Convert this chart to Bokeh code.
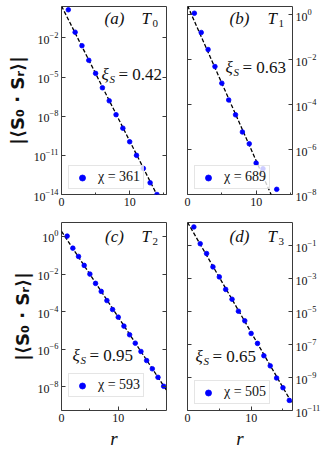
import math
from bokeh.plotting import figure
from bokeh.layouts import column, row
from bokeh.models import (Range1d, LogAxis, FixedTicker, Label, Legend, LegendItem,
                          CustomJSTickFormatter)
from bokeh.embed import file_html
from bokeh.resources import INLINE

# ---------------- data ----------------
r_a = [1, 2, 3, 4, 5, 6, 7, 8, 9, 10, 11, 12, 13, 14]
c_a = [1.41, 2.7e-2, 2.5e-3, 1.9e-4, 1.9e-5, 1.5e-6, 1.5e-7, 1.3e-8, 1.2e-9,
       1.1e-10, 1.0e-11, 1.0e-12, 7.9e-14, 1.0e-14]
r_b = [1, 2, 3, 4, 5, 6, 7, 8, 9, 10, 11, 13]
c_b = [1.15, 1.6e-1, 2.8e-2, 4.9e-3, 8.9e-4, 1.6e-4, 3.5e-5, 6.0e-6, 1.8e-6,
       2.5e-7, 1.4e-7, 1.7e-8]
r_c = list(range(1, 19))
c_c = [1.05, 2.4e-1, 8.7e-2, 2.9e-2, 1.0e-2, 3.2e-3, 1.2e-3, 3.9e-4, 1.3e-4,
       5.1e-5, 1.7e-5, 5.9e-6, 2.1e-6, 7.6e-7, 2.5e-7, 9.1e-8, 3.2e-8, 1.07e-8]
r_d = list(range(1, 17))
c_d = [1.35, 1.3e-1, 3.3e-2, 5.1e-3, 1.26e-3, 2.2e-4, 5.6e-5, 1.05e-5, 2.75e-6,
       4.7e-7, 1.17e-7, 2.1e-8, 5.1e-9, 9.3e-10, 2.4e-10, 4.1e-11]

xi_values = [0.42, 0.63, 0.95, 0.65]
fit_amplitudes = [2.75, 2.5, 1.9, 2.6]
chi_values = [361, 689, 593, 505]
panel_tags = ["a", "b", "c", "d"]
state_idx = ["0", "1", "2", "3"]
x_max = [15.4, 15.3, 18.5, 16.5]
y_lims = [(1e-14, 10**0.4), (1e-8, 10**0.36), (10**-9.26, 10**0.745), (1e-11, 10**0.4)]
y_ticks = [[1e-14, 1e-11, 1e-8, 1e-5, 1e-2],
           [1e-8, 1e-6, 1e-4, 1e-2, 1e0],
           [1e-8, 1e-6, 1e-4, 1e-2, 1e0],
           [1e-11, 1e-9, 1e-7, 1e-5, 1e-3, 1e-1]]
x_ticks = [0, 10]
x_minor = [5, 15]

SERIF = "Liberation Serif"
FRAME = "#3a3a3a"
BLUE = "#0000ff"

# layout: (width, height, left, right, top, bottom)
geo = [
    (176, 221, 61, 10, 6, 27),
    (156, 221, 11, 40, 6, 27),
    (176, 231, 61, 10, 1, 42),
    (156, 231, 11, 40, 1, 42),
]
tag_pos = [(53, 12), (52, 12), (53, 14), (52, 14)]
xi_pos = [(40, 68), (38, 61), (11, 133), (8, 134)]
legend_loc = [(7, 5), (7, 5), (7, 13), (7, 6)]
data = [(r_a, c_a), (r_b, c_b), (r_c, c_c), (r_d, c_d)]


def style_axis(ax, labels=True):
    ax.axis_line_color = None
    ax.major_tick_in = 4
    ax.major_tick_out = 0
    ax.minor_tick_in = 2
    ax.minor_tick_out = 0
    ax.major_tick_line_color = FRAME
    ax.minor_tick_line_color = FRAME
    ax.major_label_text_font = SERIF
    ax.major_label_text_color = "#111111"
    ax.major_label_text_font_size = "12px"
    if labels:
        ax.major_label_standoff = 3
    else:
        ax.formatter = CustomJSTickFormatter(code="return ' ';")
        ax.major_label_text_font_size = "11px"
        ax.major_label_standoff = 0


panels = []
for i in range(4):
    w, h, bl, br, bt, bb = geo[i]
    fw, fh = w - bl - br, h - bt - bb
    side = "left" if i in (0, 2) else "right"
    ymin, ymax = y_lims[i]
    p = figure(width=w, height=h, x_range=Range1d(0, x_max[i]),
               y_range=Range1d(ymin, ymax), y_axis_type="log",
               y_axis_location=side, output_backend="svg",
               toolbar_location=None, min_border_left=bl, min_border_right=br,
               min_border_top=bt, min_border_bottom=bb)
    p.grid.visible = False
    p.outline_line_color = FRAME
    p.outline_line_width = 1
    p.background_fill_color = "white"
    p.border_fill_color = "white"

    xa = p.xaxis[0]
    xa.ticker = FixedTicker(ticks=x_ticks, minor_ticks=x_minor)
    style_axis(xa)
    ya = p.yaxis[0]
    ya.ticker = FixedTicker(ticks=y_ticks[i])
    style_axis(ya)

    mirror = LogAxis(ticker=FixedTicker(ticks=y_ticks[i]))
    style_axis(mirror, labels=False)
    p.add_layout(mirror, "right" if side == "left" else "left")

    if side == "left":
        ya.axis_label = "|⟨S₀ · Sᵣ⟩|"
        ya.axis_label_text_font = "DejaVu Sans"
        ya.axis_label_text_font_size = "18px"
        ya.axis_label_text_font_style = "bold"
        ya.axis_label_text_color = "#111111"
        ya.axis_label_standoff = 2
    if i >= 2:
        xa.axis_label = "r"
        xa.axis_label_text_font = SERIF
        xa.axis_label_text_font_size = "19px"
        xa.axis_label_text_font_style = "italic"
        xa.axis_label_text_color = "#111111"
        xa.axis_label_standoff = 3

    xs = [0, x_max[i]]
    ys = [fit_amplitudes[i] * math.exp(-x / xi_values[i]) for x in xs]
    p.line(xs, ys, line_color="black", line_width=1.3, line_dash="4 2")

    rr, cc = data[i]
    sc = p.scatter(rr, cc, size=4.6, color=BLUE, line_color=BLUE, line_width=0.8)

    lt, lb = math.log10(ymax), math.log10(ymin)

    def at(rx, ry, i=i, fw=fw, fh=fh, lt=lt, lb=lb):
        return x_max[i] * rx / fw, 10 ** (lt - (lt - lb) * ry / fh)

    def txt(p, rx, ry, s, size, style="italic", align="left", dy=0, at=at):
        x, y = at(rx, ry + dy)
        p.add_layout(Label(x=x, y=y, text=s, text_font=SERIF,
                           text_font_size=size, text_font_style=style,
                           text_align=align, text_baseline="middle",
                           text_color="#111111"))

    tx, ty = tag_pos[i]
    txt(p, tx, ty, "(" + panel_tags[i] + ")", "17px", align="center")
    txt(p, 80, ty, "T", "17px")
    txt(p, 91, ty, state_idx[i], "11px", style="normal", dy=5)

    xx, xy = xi_pos[i]
    txt(p, xx, xy, "ξ", "17px")
    txt(p, xx + 8, xy, "S", "11px", dy=4)
    txt(p, xx + 17, xy, "= %.2f" % xi_values[i], "17px", style="normal")

    leg = Legend(items=[LegendItem(label="χ = %d" % chi_values[i], renderers=[sc])],
                 location=legend_loc[i])
    leg.label_text_font = SERIF
    leg.label_text_font_size = "14px"
    leg.label_text_color = "#111111"
    leg.glyph_width = 20
    leg.glyph_height = 15
    leg.label_height = 15
    leg.label_standoff = 6
    leg.padding = 3
    leg.spacing = 0
    leg.margin = 0
    leg.border_line_color = "#cccccc"
    leg.background_fill_alpha = 0.8
    p.add_layout(leg)
    panels.append(p)

layout = column(row(panels[0], panels[1], spacing=0),
                row(panels[2], panels[3], spacing=0), spacing=0)

open("out.html", "w").write(file_html(layout, INLINE))
